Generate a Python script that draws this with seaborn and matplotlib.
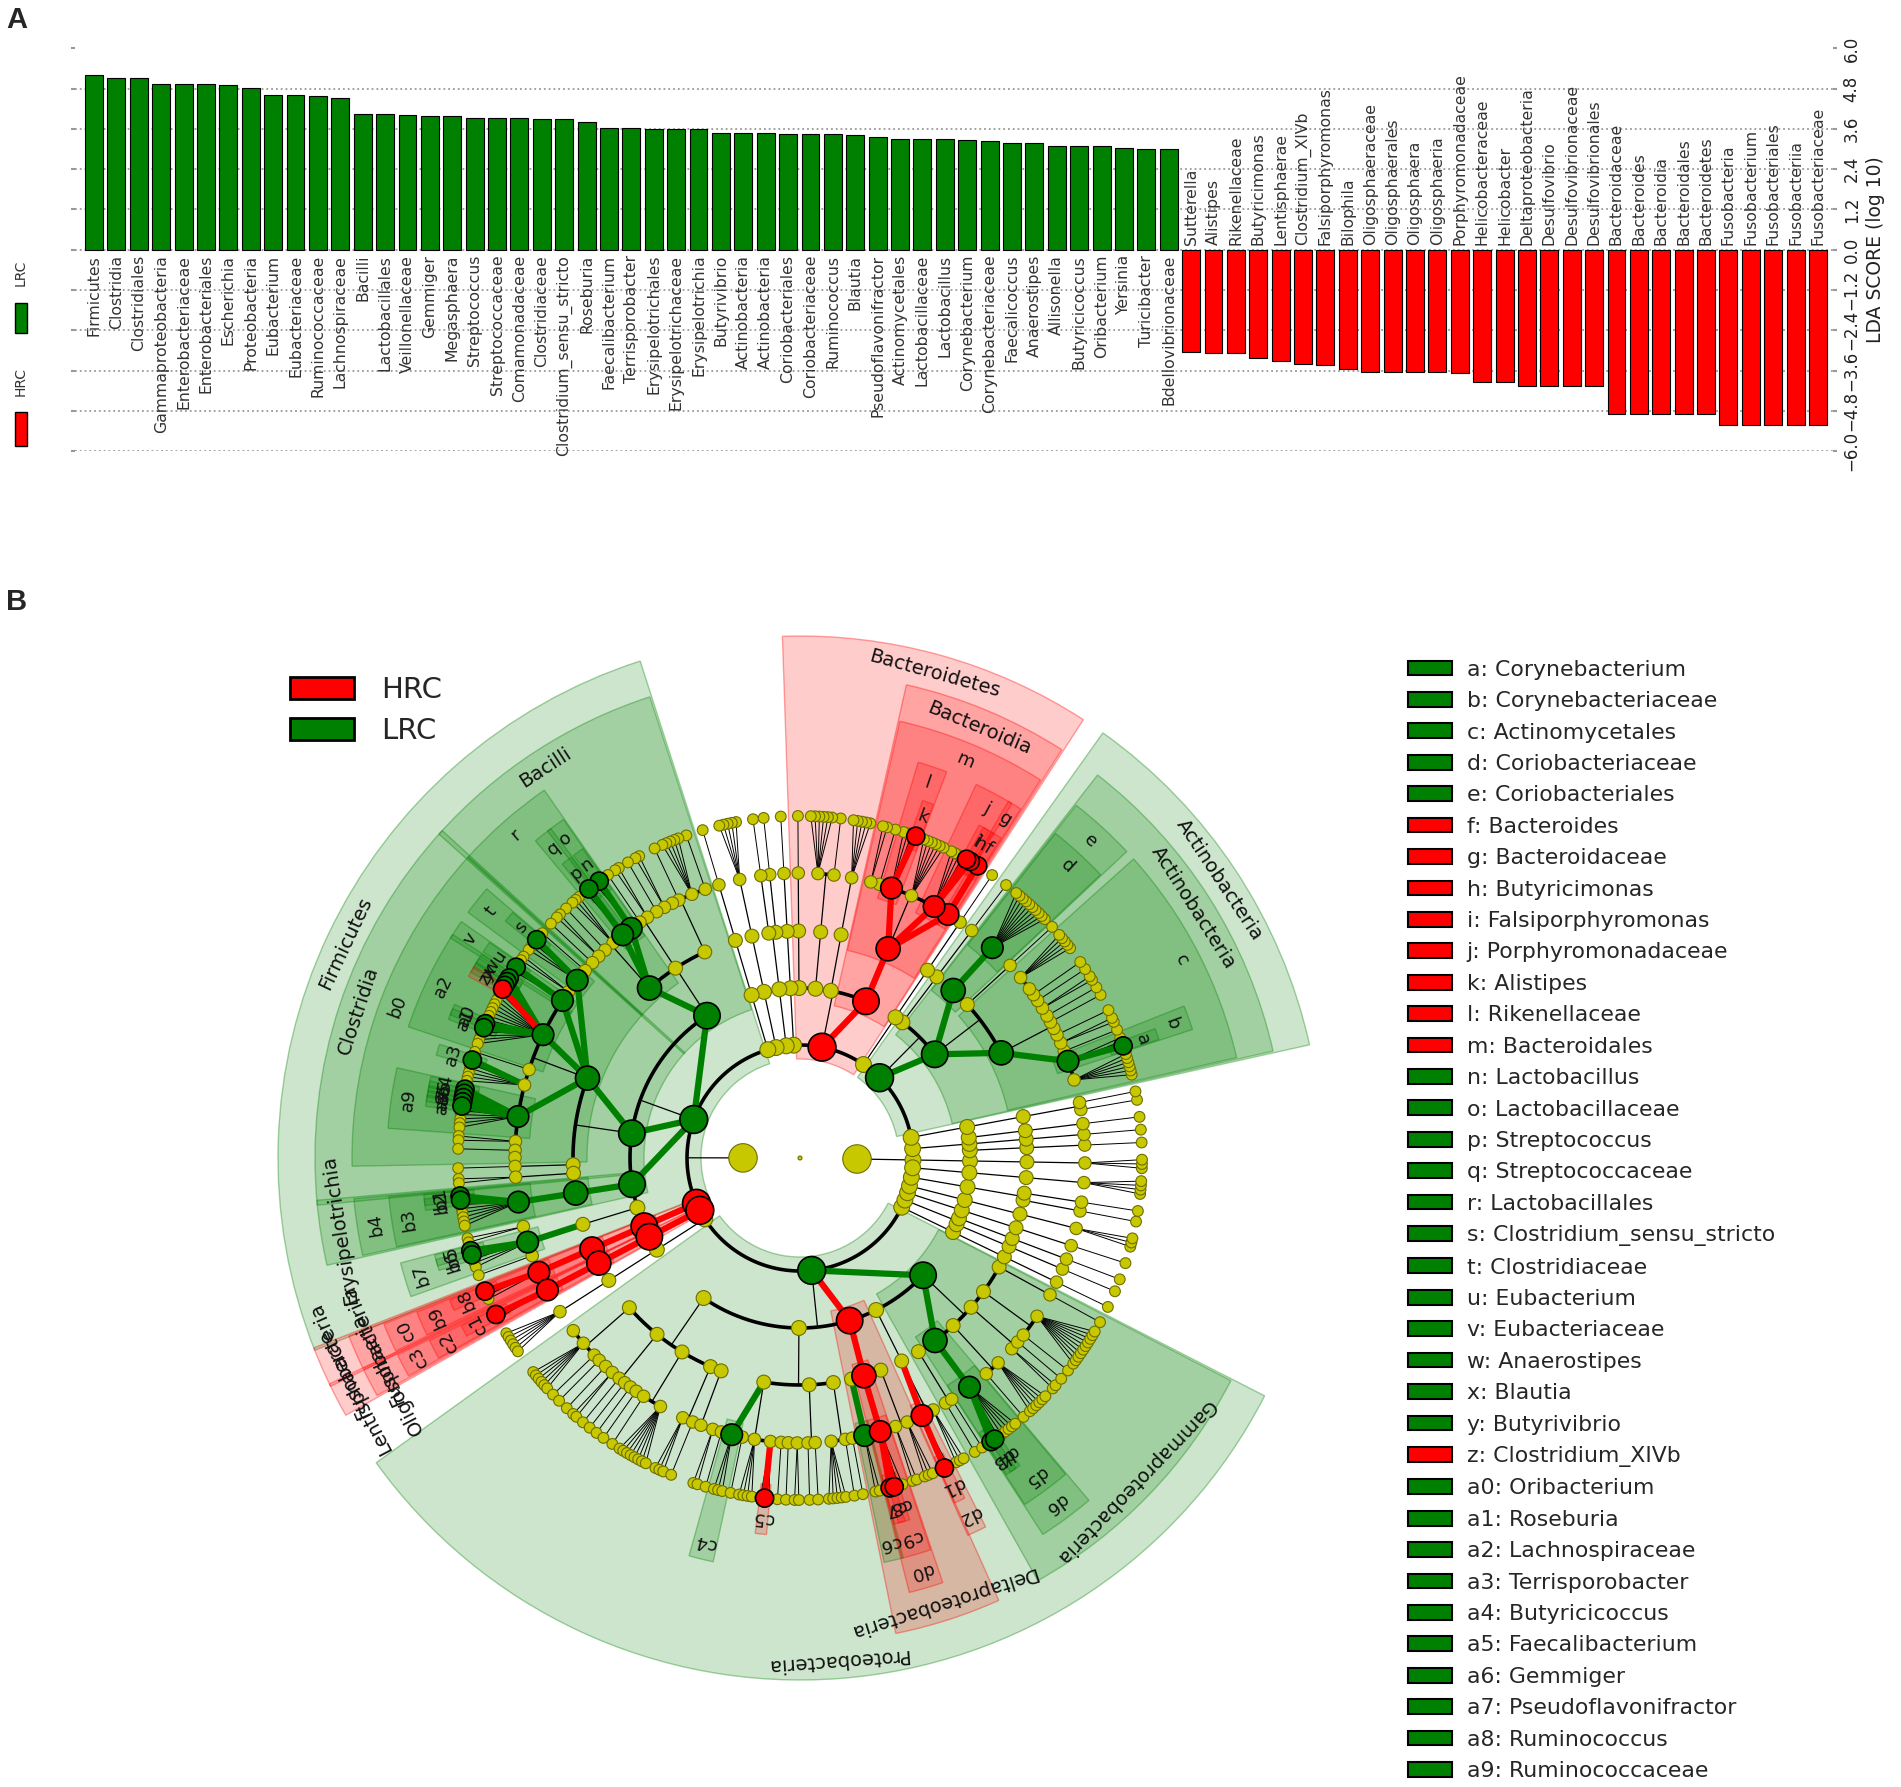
import numpy as np
import pandas as pd
import seaborn as sns
import matplotlib.pyplot as plt
from matplotlib.patches import Patch, Rectangle, Wedge

# ---------------- Panel A: LDA scores ----------------
LDA_TAXA = [
    'Firmicutes', 'Clostridia', 'Clostridiales', 'Gammaproteobacteria', 'Enterobacteriaceae',
    'Enterobacteriales', 'Escherichia', 'Proteobacteria', 'Eubacterium', 'Eubacteriaceae',
    'Ruminococcaceae', 'Lachnospiraceae', 'Bacilli', 'Lactobacillales', 'Veillonellaceae',
    'Gemmiger', 'Megasphaera', 'Streptococcus', 'Streptococcaceae', 'Comamonadaceae',
    'Clostridiaceae', 'Clostridium_sensu_stricto', 'Roseburia', 'Faecalibacterium', 'Terrisporobacter',
    'Erysipelotrichales', 'Erysipelotrichaceae', 'Erysipelotrichia', 'Butyrivibrio', 'Actinobacteria',
    'Actinobacteria', 'Coriobacteriales', 'Coriobacteriaceae', 'Ruminococcus', 'Blautia',
    'Pseudoflavonifractor', 'Actinomycetales', 'Lactobacillaceae', 'Lactobacillus', 'Corynebacterium',
    'Corynebacteriaceae', 'Faecalicoccus', 'Anaerostipes', 'Allisonella', 'Butyricicoccus',
    'Oribacterium', 'Yersinia', 'Turicibacter', 'Bdellovibrionaceae',
    'Sutterella', 'Alistipes', 'Rikenellaceae', 'Butyricimonas', 'Lentisphaerae',
    'Clostridium_XIVb', 'Falsiporphyromonas', 'Bilophila', 'Oligosphaeraceae', 'Oligosphaerales',
    'Oligosphaera', 'Oligosphaeria', 'Porphyromonadaceae', 'Helicobacteraceae', 'Helicobacter',
    'Deltaproteobacteria', 'Desulfovibrio', 'Desulfovibrionaceae', 'Desulfovibrionales', 'Bacteroidaceae',
    'Bacteroides', 'Bacteroidia', 'Bacteroidales', 'Bacteroidetes', 'Fusobacteria',
    'Fusobacterium', 'Fusobacteriales', 'Fusobacteriia', 'Fusobacteriaceae',
]
LDA_SCORES = [
    5.21, 5.11, 5.11, 4.93, 4.93, 4.93, 4.90, 4.83, 4.61, 4.61,
    4.57, 4.52, 4.04, 4.04, 4.01, 3.98, 3.98, 3.94, 3.94, 3.94,
    3.91, 3.91, 3.82, 3.64, 3.62, 3.59, 3.59, 3.59, 3.48, 3.48,
    3.48, 3.46, 3.46, 3.44, 3.42, 3.36, 3.30, 3.30, 3.30, 3.27,
    3.25, 3.19, 3.18, 3.10, 3.10, 3.10, 3.04, 3.01, 3.01,
    -3.06, -3.08, -3.08, -3.24, -3.32, -3.40, -3.43, -3.56, -3.63, -3.63,
    -3.63, -3.63, -3.68, -3.95, -3.95, -4.05, -4.05, -4.05, -4.05, -4.89,
    -4.90, -4.91, -4.91, -4.91, -5.21, -5.21, -5.21, -5.21, -5.21,
]
LDA_GROUP = ['LRC'] * 49 + ['HRC'] * 29
LDA_TICKS = [-6.0, -4.8, -3.6, -2.4, -1.2, 0.0, 1.2, 2.4, 3.6, 4.8, 6.0]


# ---------------- Panel B: cladogram taxonomy ----------------
# an int k is an unmarked clade with k unmarked children, a list is an unmarked
# clade with the listed children, lrc()/hrc() mark biomarker clades
def lrc(name, kids=0, tag=None):
    return {'name': name, 'cls': 'LRC', 'tag': tag, 'kids': kids}


def hrc(name, kids=0, tag=None):
    return {'name': name, 'cls': 'HRC', 'tag': tag, 'kids': kids}


ARCHAEA_PHYLA = [[[[3]]]]

PHYLA_BEFORE_ACTINO = [[[[1]], [[1]], [[1]]], [[[1, 1]]]]

ACTINOBACTERIA = lrc('Actinobacteria', [
    lrc('Actinobacteria', [
        lrc('Actinomycetales', [
            6,
            lrc('Corynebacteriaceae', [lrc('Corynebacterium', tag='a'), 0, 0], tag='b'),
            1, 2, 1, 0, 1, 1, 2, 1, 1, 0, 5], tag='c'),
        [1],
        lrc('Coriobacteriales', [lrc('Coriobacteriaceae', 10, tag='d')], tag='e'),
    ]),
    [[1]],
])

PHYLA_BETWEEN = [[[[1]]]]

BACTEROIDETES = hrc('Bacteroidetes', [
    hrc('Bacteroidia', [
        hrc('Bacteroidales', [
            hrc('Bacteroidaceae', [hrc('Bacteroides', tag='f')], tag='g'),
            hrc('Porphyromonadaceae', [hrc('Butyricimonas', tag='h'), hrc('Falsiporphyromonas', tag='i'),
                                       0, 0, 0, 0], tag='j'),
            6,
            hrc('Rikenellaceae', [hrc('Alistipes', tag='k'), 0, 0, 0], tag='l'),
            1, 2], tag='m'),
    ]),
    [[5]], [[1, 6]], [[1]],
])

PHYLA_TOP = [[[[1]]], [[[1], [1]]], [[[5]]], [[[1]]]]

FIRMICUTES = lrc('Firmicutes', [
    lrc('Bacilli', [
        [1, 5, 1, 0, 2, 1],
        [2, 1],
        lrc('Lactobacillales', [
            lrc('Lactobacillaceae', [lrc('Lactobacillus', tag='n'), 0], tag='o'),
            lrc('Streptococcaceae', [lrc('Streptococcus', tag='p'), 0], tag='q'),
            3, 1, 2, 1], tag='r'),
    ]),
    lrc('Clostridia', [
        lrc('Clostridiales', [
            1,
            lrc('Clostridiaceae', [lrc('Clostridium_sensu_stricto', tag='s'), 0, 0, 0], tag='t'),
            2,
            lrc('Eubacteriaceae', [lrc('Eubacterium', tag='u'), 0], tag='v'),
            lrc('Lachnospiraceae', [lrc('Anaerostipes', tag='w'), lrc('Blautia', tag='x'),
                                    lrc('Butyrivibrio', tag='y'), hrc('Clostridium_XIVb', tag='z'),
                                    0, 0, 0, 0, 0, 0, 0, 0,
                                    lrc('Oribacterium', tag='a0'), lrc('Roseburia', tag='a1'),
                                    0, 0, 0, 0], tag='a2'),
            1,
            [lrc('Terrisporobacter', tag='a3'), 0, 0, 0, 0, 0],
            lrc('Ruminococcaceae', [lrc('Butyricicoccus', tag='a4'), lrc('Faecalibacterium', tag='a5'),
                                    lrc('Gemmiger', tag='a6'), lrc('Pseudoflavonifractor', tag='a7'),
                                    lrc('Ruminococcus', tag='a8'), 0, 0, 0, 0, 0], tag='a9'),
            2, 1, 0], tag='b0'),
        [1],
        [2],
    ]),
    lrc('Erysipelotrichia', [
        lrc('Erysipelotrichales', [
            lrc('Erysipelotrichaceae', [lrc('Faecalicoccus', tag='b1'), lrc('Turicibacter', tag='b2'),
                                        0, 0, 0, 0, 0, 0], tag='b3')], tag='b4')]),
    [[2, lrc('Veillonellaceae', [lrc('Allisonella', tag='b5'), lrc('Megasphaera', tag='b6'), 0, 0, 0],
             tag='b7'), 1]],
])

FUSOBACTERIA = hrc('Fusobacteria', [
    hrc('Fusobacteriia', [
        hrc('Fusobacteriales', [
            hrc('Fusobacteriaceae', [hrc('Fusobacterium', tag='b8'), 0, 0], tag='b9')], tag='c0')])])

LENTISPHAERAE = hrc('Lentisphaerae', [
    hrc('Oligosphaeria', [
        hrc('Oligosphaerales', [
            hrc('Oligosphaeraceae', [hrc('Oligosphaera', tag='c1'), 0], tag='c2')], tag='c3')])])

PHYLA_AFTER_LENTI = [[[[6]]]]

PROTEOBACTERIA = lrc('Proteobacteria', [
    [[0, 6, 1, 1], [1, 2, 1, 1, 1, 1], [1, 8], [3, 1], [0]],
    [[2, 1, lrc('Comamonadaceae', [0, 0, 0], tag='c4'), 1, 4,
      [0, hrc('Sutterella', tag='c5'), 0], 1, 1, 2], [1, 1], [5, 1, 1]],
    hrc('Deltaproteobacteria', [
        [lrc('Bdellovibrionaceae', [0, 0], tag='c6')],
        hrc('Desulfovibrionales', [
            hrc('Desulfovibrionaceae', [hrc('Bilophila', tag='c7'), hrc('Desulfovibrio', tag='c8'), 0, 0],
                tag='c9')], tag='d0'),
        [2, 3]]),
    [[hrc('Helicobacteraceae', [hrc('Helicobacter', tag='d1'), 0], tag='d2'), 3]],
    lrc('Gammaproteobacteria', [
        [1, 1],
        lrc('Enterobacteriales', [
            lrc('Enterobacteriaceae', [lrc('Escherichia', tag='d3'), lrc('Yersinia', tag='d4'),
                                       0, 0, 0, 0, 0, 0], tag='d5')], tag='d6'),
        [1, 6], [2, 1], [1, 10], [1]]),
])

PHYLA_LAST = [[[[1]]], [[[1]], [[1]]], [[[1]]], [[[3]]], [[[1], [1]]], [[[4]]]]

BACTERIA_PHYLA = (PHYLA_BEFORE_ACTINO + [ACTINOBACTERIA] + PHYLA_BETWEEN + [BACTEROIDETES]
                  + PHYLA_TOP + [FIRMICUTES, FUSOBACTERIA, LENTISPHAERAE] + PHYLA_AFTER_LENTI
                  + [PROTEOBACTERIA] + PHYLA_LAST)

LEGEND_ROWS = 36

# ---------------- style ----------------
GREEN = '#008000'
RED = '#ff0000'
YELLOW = '#c8c800'
CLS_COLOR = {'LRC': GREEN, 'HRC': RED}
W, H = 1901, 1787

sns.set_theme(style='white')
plt.rcParams['font.family'] = ['DejaVu Sans']

fig = plt.figure(figsize=(W / 100, H / 100), dpi=100)

# ---------------- Panel A ----------------
axA = fig.add_axes([75 / W, 1 - 451 / H, (1833 - 75) / W, (451 - 48.5) / H])
dfA = pd.DataFrame({'pos': np.arange(len(LDA_TAXA)), 'taxon': LDA_TAXA,
                    'lda': LDA_SCORES, 'group': LDA_GROUP})
sns.barplot(data=dfA, x='pos', y='lda', hue='group', palette=CLS_COLOR, dodge=False, saturation=1,
            width=0.8, edgecolor='black', linewidth=0.8, errorbar=None, legend=False, ax=axA)
axA.set_xlim(-0.85, len(LDA_TAXA) - 1 + 0.67)
axA.set_ylim(-6, 6)
axA.set_xticks([])
axA.set_xlabel('')
axA.set_yticks(LDA_TICKS)
axA.set_yticklabels([f'{v:.1f}'.replace('-', '\u2212') for v in LDA_TICKS],
                    rotation=90, va='center', fontsize=12, color='#222222')
axA.yaxis.set_ticks_position('both')
axA.tick_params(axis='y', left=True, right=True, labelleft=False, labelright=True,
                length=3, width=1.5, color='#999999', pad=4)
axA.yaxis.set_label_position('right')
axA.set_ylabel('LDA SCORE (log 10)', fontsize=13.5, color='#222222', labelpad=4)
axA.grid(axis='y', linestyle=':', color='#9a9a9a', linewidth=1.3)
axA.set_axisbelow(True)
for sp in axA.spines.values():
    sp.set_visible(False)
for i, (name, v) in enumerate(zip(LDA_TAXA, LDA_SCORES)):
    if v > 0:
        axA.text(i, -0.15, name, rotation=90, ha='center', va='top', fontsize=11.3, color='#333333')
    else:
        axA.text(i, 0.15, name, rotation=90, ha='center', va='bottom', fontsize=11.3, color='#333333')

fig.text(21 / W, 1 - 273 / H, 'LRC', rotation=90, ha='center', va='center', fontsize=10, color='#333333')
fig.text(21 / W, 1 - 382 / H, 'HRC', rotation=90, ha='center', va='center', fontsize=10, color='#333333')
fig.add_artist(Rectangle((15 / W, 1 - 333 / H), 12 / W, 30 / H, transform=fig.transFigure,
                         facecolor=GREEN, edgecolor='black', lw=1))
fig.add_artist(Rectangle((15 / W, 1 - 446 / H), 12 / W, 34 / H, transform=fig.transFigure,
                         facecolor=RED, edgecolor='black', lw=1))
fig.text(6 / W, 1 - 6 / H, 'A', fontsize=21, fontweight='bold', va='top', family='Liberation Sans')
fig.text(6 / W, 1 - 588 / H, 'B', fontsize=21, fontweight='bold', va='top', family='Liberation Sans')

# ---------------- Panel B ----------------
RADIUS = {0: 0, 1: 57, 2: 113, 3: 170, 4: 227, 5: 285, 6: 342}
OUTER = {2: 522, 3: 485, 4: 448, 5: 413, 6: 378}
LABEL_R = {2: 503, 3: 466, 4: 430, 5: 396, 6: 362}
PAD = {2: 2.2, 3: 1.9, 4: 1.6, 5: 1.4, 6: 1.2}
GAP = {1: 3.0, 2: 3.0, 3: 2.0, 4: 1.5, 5: 1.0, 6: 0.0}
YEL_SIZE = {0: 8, 1: 420, 2: 130, 3: 115, 4: 100, 5: 80, 6: 60}
COL_SIZE = {2: 400, 3: 360, 4: 300, 5: 240, 6: 170}


def build(spec, depth):
    if isinstance(spec, dict):
        node = dict(spec)
        kids = spec['kids']
    else:
        node = {'name': None, 'cls': None, 'tag': None}
        kids = spec
    node['depth'] = depth
    if isinstance(kids, int):
        node['children'] = [build(0, depth + 1) for _ in range(kids)]
    else:
        node['children'] = [build(k, depth + 1) for k in kids]
    return node


root = build([ARCHAEA_PHYLA, BACTERIA_PHYLA], 0)

cursor = [0.0]


def place(node):
    ch = node['children']
    if not ch:
        node['u'] = node['lo'] = node['hi'] = cursor[0]
        cursor[0] += 1
        return
    for i, c in enumerate(ch):
        if i:
            cursor[0] += GAP[c['depth']]
        place(c)
    node['u'] = 0.5 * (ch[0]['u'] + ch[-1]['u'])
    node['lo'] = ch[0]['lo']
    node['hi'] = ch[-1]['hi']


place(root)
DPU = 360.0 / (cursor[0] - 1 + GAP[1])
START = -1.0 - root['children'][0]['u'] * DPU


def walk(node):
    yield node
    for c in node['children']:
        yield from walk(c)


nodes = list(walk(root))
for n in nodes:
    n['a'] = START + n['u'] * DPU


def polar(r, a):
    rad = np.deg2rad(a)
    return r * np.cos(rad), r * np.sin(rad)


axB = fig.add_axes([260 / W, 1 - 1698 / H, 1080 / W, 1080 / H])
axB.set_xlim(-540, 540)
axB.set_ylim(-540, 540)
axB.set_aspect('equal')
axB.axis('off')

# highlighted sectors and their labels
marked = sorted([n for n in nodes if n['cls'] and n['depth'] >= 2], key=lambda n: n['depth'])
for n in marked:
    d = n['depth']
    a0 = START + (n['lo'] - PAD[d]) * DPU
    a1 = START + (n['hi'] + PAD[d]) * DPU
    inner = RADIUS[d] - 14
    rgb = plt.matplotlib.colors.to_rgb(CLS_COLOR[n['cls']])
    axB.add_patch(Wedge((0, 0), OUTER[d], a0, a1, width=OUTER[d] - inner,
                        facecolor=(*rgb, 0.2), edgecolor=(*rgb, 0.35), lw=1, zorder=1))
    mid = 0.5 * (a0 + a1)
    text = n['name'] if d <= 3 else n['tag']
    x, y = polar(LABEL_R[d], mid)
    axB.text(x, y, text, rotation=mid - 90, rotation_mode='anchor', ha='center', va='center',
             fontsize=14 if d <= 3 else 13, color='#111111', zorder=6)

# branches
for n in nodes:
    d = n['depth']
    ch = n['children']
    if d == 0 or not ch:
        continue
    rc = RADIUS[d + 1]
    if d + 1 <= 5:
        x0, y0 = polar(RADIUS[d], n['a'])
        x1, y1 = polar(rc, n['a'])
        axB.plot([x0, x1], [y0, y1], color='black', lw=0.9, zorder=2)
        if len(ch) > 1:
            arc = np.linspace(ch[0]['a'], ch[-1]['a'], 300)
            ax_, ay_ = polar(rc, arc)
            axB.plot(ax_, ay_, color='black', lw=2.6, zorder=2, solid_capstyle='butt')
    else:
        x0, y0 = polar(RADIUS[d], n['a'])
        for c in ch:
            x1, y1 = polar(rc, c['a'])
            axB.plot([x0, x1], [y0, y1], color='black', lw=0.7, zorder=2)
    if d == 1:
        continue
    for c in ch:
        if c['cls']:
            x0, y0 = polar(RADIUS[d], n['a'])
            x1, y1 = polar(rc, c['a'])
            axB.plot([x0, x1], [y0, y1], color=CLS_COLOR[c['cls']], lw=4.5, zorder=3,
                     solid_capstyle='round')

# nodes
yel = [n for n in nodes if not n['cls']]
yx, yy = polar(np.array([RADIUS[n['depth']] for n in yel]), np.array([n['a'] for n in yel]))
axB.scatter(yx, yy, s=[YEL_SIZE[n['depth']] for n in yel], c=YELLOW, edgecolors='#6e6e00',
            linewidths=0.8, zorder=4)
col = [n for n in nodes if n['cls']]
cx, cy = polar(np.array([RADIUS[n['depth']] for n in col]), np.array([n['a'] for n in col]))
axB.scatter(cx, cy, s=[COL_SIZE[n['depth']] for n in col], c=[CLS_COLOR[n['cls']] for n in col],
            edgecolors='black', linewidths=1.2, zorder=5)

# class legend (top left of panel B)
fig.legend(handles=[Patch(facecolor=RED, edgecolor='black', lw=2),
                    Patch(facecolor=GREEN, edgecolor='black', lw=2)],
           labels=['HRC', 'LRC'], loc='upper left', bbox_to_anchor=(264 / W, 1 - 650 / H),
           frameon=False, fontsize=21, handlelength=2.2, handleheight=0.8,
           handletextpad=0.9, labelspacing=0.45, borderpad=0.4)

# letter key legend (right)
tagged = sorted([n for n in nodes if n['tag']], key=lambda n: (len(n['tag']), n['tag']))[:LEGEND_ROWS]
fig.legend(handles=[Patch(facecolor=CLS_COLOR[n['cls']], edgecolor='black', lw=1.5) for n in tagged],
           labels=[f"{n['tag']}: {n['name']}" for n in tagged], loc='upper left',
           bbox_to_anchor=(1388 / W, 1 - 640 / H), frameon=False, fontsize=15.8,
           handlelength=2.0, handleheight=0.66, handletextpad=0.68, labelspacing=0.52, borderpad=0.4)

fig.savefig('out.png', dpi=100)
